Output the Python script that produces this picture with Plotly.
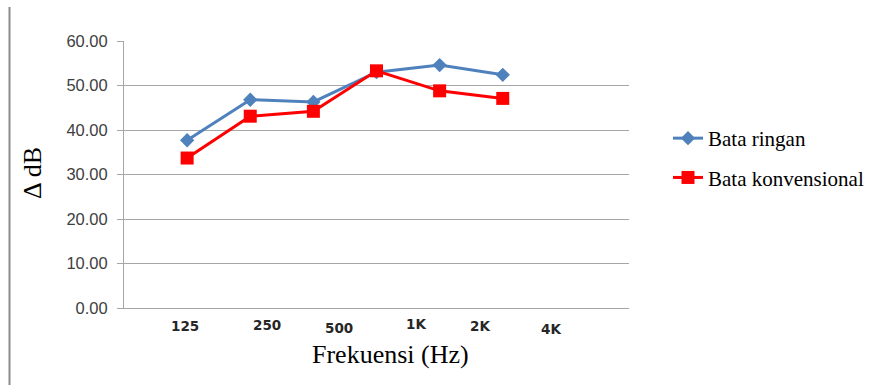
import plotly.graph_objects as go

# Data
freq_positions = [1, 2, 3, 4, 5, 6]
bata_ringan = [37.7, 46.8, 46.3, 53.0, 54.6, 52.4]
bata_konvensional = [33.7, 43.1, 44.2, 53.3, 48.8, 47.1]
tick_labels = ["125", "250", "500", "1K", "2K", "4K"]
# label placement (axis units / pixel rows) as they appear in the original
tick_label_x = [0.97, 2.27, 3.41, 4.63, 5.64, 6.77]
tick_label_y_px = [326, 325, 327.5, 324, 325.5, 329]

W, H = 885, 385
L, R, T, B = 124, 256, 41, 77
ph = H - T - B

fig = go.Figure()
fig.add_trace(go.Scatter(
    x=freq_positions, y=bata_ringan, name="Bata ringan", mode="lines+markers",
    line=dict(color="#4F81BD", width=3),
    marker=dict(symbol="diamond", size=11, color="#4F81BD"),
    legendgroup="a"))
fig.add_trace(go.Scatter(
    x=freq_positions, y=bata_konvensional, name="Bata konvensional", mode="lines+markers",
    line=dict(color="#FF0000", width=3),
    marker=dict(symbol="square", size=13, color="#FF0000"),
    legendgroup="b"))

annotations = []
for lab, xv, ypx in zip(tick_labels, tick_label_x, tick_label_y_px):
    annotations.append(dict(
        x=xv, xref="x", y=(H - B - ypx) / ph, yref="paper",
        text=lab, showarrow=False, xanchor="center", yanchor="middle",
        font=dict(family="DejaVu Sans", size=13.5, color="#262626", weight="bold")))
annotations.append(dict(
    x=(390 - L) / (W - L - R), xref="paper", y=(H - B - 354) / ph, yref="paper",
    text="Frekuensi (Hz)", showarrow=False, xanchor="center", yanchor="middle",
    font=dict(family="Liberation Serif", size=26, color="#000000")))
annotations.append(dict(
    x=(32 - L) / (W - L - R), xref="paper", y=(H - B - 173) / ph, yref="paper",
    text="Δ dB", showarrow=False, xanchor="center", yanchor="middle", textangle=-90,
    font=dict(family="Liberation Serif", size=26, color="#000000")))

shapes = [dict(type="line", xref="paper", yref="paper",
               x0=(9.5 - L) / (W - L - R), x1=(9.5 - L) / (W - L - R),
               y0=(H - B - 7) / ph, y1=(H - B - 390) / ph,
               line=dict(color="#8C8C8C", width=2))]

fig.update_layout(
    width=W, height=H,
    margin=dict(l=L, r=R, t=T, b=B),
    paper_bgcolor="white", plot_bgcolor="white",
    showlegend=True,
    legend=dict(x=(668 - L) / (W - L - R), xanchor="left", y=(H - B - 118) / ph, yanchor="top",
                font=dict(family="Liberation Serif", size=21, color="#000000"),
                tracegroupgap=9, bgcolor="rgba(0,0,0,0)", borderwidth=0),
    annotations=annotations,
    shapes=shapes,
)
fig.update_xaxes(range=[0, 8], showticklabels=False, showgrid=False, zeroline=False,
                 showline=True, linecolor="#A6A6A6", linewidth=1, ticks="")
fig.update_yaxes(range=[0, 60], dtick=10, tickformat=".2f", showgrid=True,
                 gridcolor="#A6A6A6", gridwidth=1, zeroline=False,
                 showline=True, linecolor="#A6A6A6", linewidth=1,
                 ticks="outside", ticklen=6, tickcolor="#A6A6A6",
                 ticklabelstandoff=6,
                 tickfont=dict(family="Liberation Sans", size=16.5, color="#404040"))

fig.write_html("out.html")
